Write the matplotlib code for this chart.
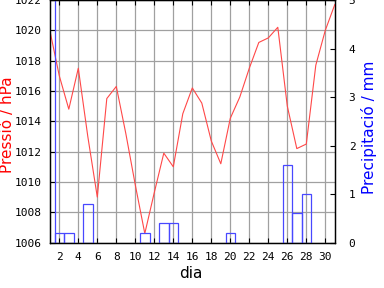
import numpy as np
import matplotlib
matplotlib.use("Agg")
import matplotlib.pyplot as plt

# daily data for the month
days = list(range(1, 32))
pressure = [1020.0, 1017.0, 1014.8, 1017.5, 1013.0, 1009.0, 1015.5, 1016.3,
            1013.2, 1009.8, 1006.6, 1009.3, 1011.9, 1011.0, 1014.5, 1016.2,
            1015.2, 1012.7, 1011.2, 1014.2, 1015.6, 1017.5, 1019.2, 1019.5,
            1020.2, 1015.0, 1012.2, 1012.5, 1017.7, 1020.0, 1021.7]
precip = [5.5, 0.2, 0.2, 0.0, 0.8, 0.0, 0.0, 0.0, 0.0, 0.0, 0.2, 0.0, 0.4,
          0.4, 0.0, 0.0, 0.0, 0.0, 0.0, 0.2, 0.0, 0.0, 0.0, 0.0, 0.0, 1.6,
          0.6, 1.0, 0.0, 0.0, 0.0]
xticks = list(range(2, 31, 2))
p_ticks = list(range(1006, 1023, 2))
r_ticks = [0, 1, 2, 3, 4, 5]

mono = "DejaVu Sans Mono"

fig = plt.figure(figsize=(3.84, 2.88), dpi=100)
ax = fig.add_axes([49.8 / 384, 1 - 242.6 / 288, 285 / 384, 242.6 / 288])
ax2 = ax.twinx()

# pressure line and grid
ax.plot(days, pressure, color="#ff4848", linewidth=0.8, zorder=3)
ax.set_xlim(1, 31)
ax.set_ylim(1006, 1022)
ax.set_xticks(xticks)
ax.set_yticks(p_ticks)
ax.grid(True, color="#a0a0a0", linewidth=0.9)
ax.tick_params(axis="x", direction="in", length=3.5, top=True, width=0.8,
               labelsize=8, pad=7)
ax.tick_params(axis="y", direction="in", length=3.5, width=0.8,
               labelsize=8, pad=6)
for lab in ax.get_xticklabels() + ax.get_yticklabels():
    lab.set_family(mono)

# precipitation bars (only days with rain)
rain_days = [d for d, r in zip(days, precip) if r > 0]
rain_vals = [r for r in precip if r > 0]
ax2.bar(rain_days, rain_vals, width=1.0, fill=False, edgecolor="#4848ff",
        linewidth=0.9)
ax2.set_ylim(0, 5)
ax2.set_yticks(r_ticks)
ax2.tick_params(axis="y", direction="in", length=3.5, width=0.8,
                labelsize=8, pad=10)
for lab in ax2.get_yticklabels():
    lab.set_family(mono)

for a in (ax, ax2):
    for s in a.spines.values():
        s.set_linewidth(0.9)

fig.text(7.5 / 384, 1 - 125 / 288, "Pressió / hPa", color="#ff0000",
         rotation=90, ha="center", va="center", fontsize=11)
fig.text(369 / 384, 1 - 127 / 288, "Precipitació / mm", color="#0000ff",
         rotation=90, ha="center", va="center", fontsize=11)
fig.text(191 / 384, 1 - 273 / 288, "dia", color="black",
         ha="center", va="center", fontsize=11)

fig.savefig("out.png", dpi=100)
